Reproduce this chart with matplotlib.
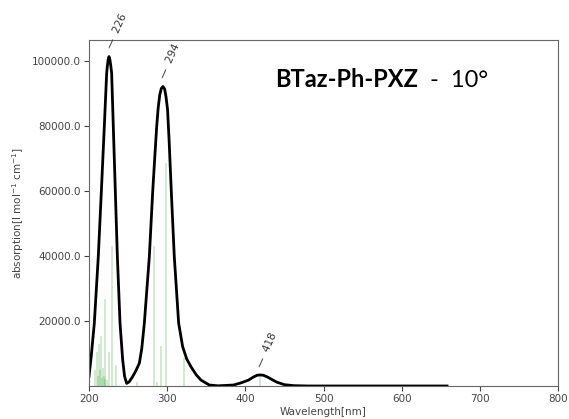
import matplotlib.pyplot as plt
from matplotlib.ticker import FormatStrFormatter

# broadened spectrum
wavelength = [200, 203, 206.8, 211.9, 215.8, 219.6, 222.6, 223.5, 224.5, 225.6, 226.8,
              227.9, 229, 231.1, 233.7, 236.3, 239.7, 243.1, 245.5, 248.2, 251.5,
              255.9, 260, 264.4, 267.5, 270.8, 277.2, 281.5, 284.2, 286.6, 288.5,
              290.5, 292.5, 294.7, 296.8, 298.5, 300.5, 302.5, 305.3, 309.1, 314.7,
              319.8, 325, 330.5, 337, 343.3, 353.9, 365, 385, 395, 404, 410, 415,
              419, 423, 428, 434, 440, 450, 462, 480, 658]
absorption = [2900, 9500, 19300, 39800, 59800, 79800, 96200, 98400, 100300, 101300, 100300,
              98400, 96200, 79800, 59800, 39800, 19300, 8000, 3000, 800, 1300,
              2900, 4700, 7000, 11500, 19300, 39800, 59800, 70500, 79800, 85500,
              89500, 91500, 92100, 91300, 89000, 85000, 75500, 59800, 39800, 19300,
              12100, 8300, 5900, 3500, 1800, 300, 50, 300, 1000, 1800, 2700, 3300,
              3400, 3300, 2800, 2000, 1200, 400, 100, 0, 0]

# oscillator sticks
stick_wl = [207.7, 210.7, 212.0, 212.8, 214.0, 216.0, 217.2, 218.3, 219.2, 220.0,
            221.0, 222.6, 225.0, 229.0, 234.5, 261.8, 282.7, 287.4, 291.6, 298.9,
            322.0, 419.0]
stick_val = [4900, 10500, 3000, 12900, 5000, 15400, 2500, 5500, 3000, 26900,
             2000, 1800, 10500, 43200, 6300, 1300, 42900, 1300, 12400, 68700,
             8500, 3400]

peak_labels = [226, 294, 418]
peak_heights = [101300, 92100, 3400]

fig = plt.figure(figsize=(5.69, 4.19), dpi=100)
ax = fig.add_axes([0.1564, 0.0788, 0.8243, 0.8257])

ax.vlines(stick_wl, 0, stick_val, color='#2ca02c', alpha=0.28, lw=1.1)
ax.plot(wavelength, absorption, color='black', lw=2)

for lab, h in zip(peak_labels, peak_heights):
    ax.annotate('\u2014  %d' % lab, xy=(lab, h), xytext=(0, 6), textcoords='offset points',
                rotation=66, rotation_mode='anchor', ha='left', va='center',
                fontsize=7.5, color='#333333')

ax.set_xlim(200, 800)
ax.set_ylim(0, 106400)
ax.set_yticks([20000, 40000, 60000, 80000, 100000])
ax.yaxis.set_major_formatter(FormatStrFormatter('%.1f'))
ax.tick_params(labelsize=7.5, colors='#444444', length=3.5, pad=2.5)
for s in ax.spines.values():
    s.set_color('#666666')

ax.set_xlabel('Wavelength[nm]', fontsize=7.5, color='#444444', labelpad=2)
ax.set_ylabel(r'absorption[l mol$^{-1}$ cm$^{-1}$]', fontsize=7.5, color='#444444')

t = ax.text(0.3975, 0.864, 'BTaz-Ph-PXZ', transform=ax.transAxes, fontsize=17,
            fontweight='bold', family='Lato', va='baseline', ha='left')
ax.annotate('  -  10\u00b0', xy=(1, 0), xycoords=t, fontsize=17, family='Lato',
            va='bottom', ha='left')

fig.savefig('out.png', dpi=100)
